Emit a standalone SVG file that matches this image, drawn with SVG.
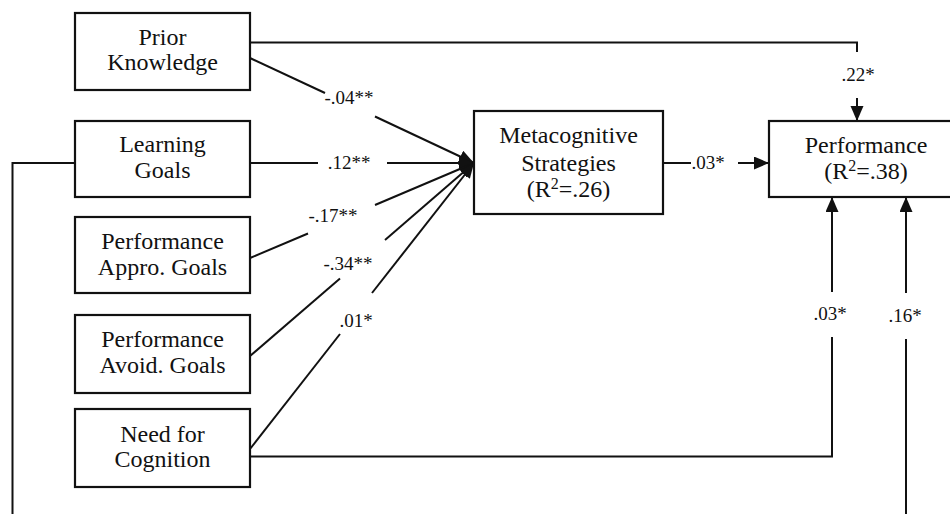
<svg xmlns="http://www.w3.org/2000/svg" width="950" height="514" viewBox="0 0 950 514">
<style>
.box{fill:#fff;stroke:#111;stroke-width:2.2}
.t{font-family:'Liberation Serif','Times New Roman','DejaVu Serif',serif;font-size:24px;fill:#111;text-anchor:middle}
.e{font-family:'Liberation Serif','Times New Roman','DejaVu Serif',serif;font-size:19px;fill:#111;text-anchor:middle}
.c{fill:none;stroke:#111;stroke-width:2}
</style>
<defs>
<marker id="ah" markerUnits="userSpaceOnUse" markerWidth="16" markerHeight="14" refX="15" refY="6.5" orient="auto">
<path d="M0,0 L15,6.5 L0,13 z" fill="#111"/>
</marker>
</defs>
<rect width="950" height="514" fill="#fff"/>
<g id="connectors">
<polyline class="c" points="250,42.5 857,42.5 857,52"/>
<line class="c" x1="857" y1="98" x2="857" y2="121" marker-end="url(#ah)"/>
<text class="e" x="858" y="81">.22*</text>
<line class="c" x1="250" y1="58" x2="325" y2="93"/>
<line class="c" x1="375" y1="116.5" x2="474" y2="163" marker-end="url(#ah)"/>
<text class="e" x="349" y="104">-.04**</text>
<line class="c" x1="250" y1="163" x2="318" y2="163"/>
<line class="c" x1="387" y1="163" x2="474" y2="163" marker-end="url(#ah)"/>
<text class="e" x="349" y="169">.12**</text>
<line class="c" x1="250" y1="258" x2="308" y2="233.5"/>
<line class="c" x1="375" y1="205" x2="474" y2="163" marker-end="url(#ah)"/>
<text class="e" x="333" y="222">-.17**</text>
<line class="c" x1="250" y1="356" x2="340" y2="278.5"/>
<line class="c" x1="385" y1="240" x2="474" y2="163" marker-end="url(#ah)"/>
<text class="e" x="348" y="270">-.34**</text>
<line class="c" x1="250" y1="449" x2="340" y2="334"/>
<line class="c" x1="372" y1="293" x2="474" y2="163" marker-end="url(#ah)"/>
<text class="e" x="356" y="327">.01*</text>
<line class="c" x1="663" y1="163" x2="691" y2="163"/>
<line class="c" x1="738" y1="163" x2="769" y2="163" marker-end="url(#ah)"/>
<text class="e" x="708" y="169">.03*</text>
<polyline class="c" points="250,456.5 832,456.5 832,337"/>
<line class="c" x1="832" y1="292" x2="832" y2="197" marker-end="url(#ah)"/>
<text class="e" x="830" y="320">.03*</text>
<polyline class="c" points="75,163 12.5,163 12.5,514"/>
<line class="c" x1="906" y1="514" x2="906" y2="339"/>
<line class="c" x1="906" y1="293" x2="906" y2="197" marker-end="url(#ah)"/>
<text class="e" x="905" y="322">.16*</text>
</g>
<g id="prior">
<rect class="box" x="75" y="13" width="175" height="77"/>
<text class="t" x="162.5" y="45">Prior</text>
<text class="t" x="162.5" y="70">Knowledge</text>
</g>
<g id="learning">
<rect class="box" x="75" y="121" width="175" height="76"/>
<text class="t" x="162.5" y="152">Learning</text>
<text class="t" x="162.5" y="178">Goals</text>
</g>
<g id="appro">
<rect class="box" x="75" y="217" width="175" height="76"/>
<text class="t" x="162.5" y="249">Performance</text>
<text class="t" x="162.5" y="275">Appro. Goals</text>
</g>
<g id="avoid">
<rect class="box" x="75" y="315" width="175" height="78"/>
<text class="t" x="162.5" y="347">Performance</text>
<text class="t" x="162.5" y="373">Avoid. Goals</text>
</g>
<g id="nfc">
<rect class="box" x="75" y="409" width="175" height="78"/>
<text class="t" x="162.5" y="442">Need for</text>
<text class="t" x="162.5" y="467">Cognition</text>
</g>
<g id="meta">
<rect class="box" x="474" y="111" width="189" height="103"/>
<text class="t" x="568.5" y="143">Metacognitive</text>
<text class="t" x="568.5" y="171">Strategies</text>
<text class="t" x="568.5" y="197">(R<tspan font-size="16" dy="-8">2</tspan><tspan dy="8">=.26)</tspan></text>
</g>
<g id="performance">
<rect class="box" x="769" y="121" width="200" height="76"/>
<text class="t" x="866" y="153">Performance</text>
<text class="t" x="866" y="179">(R<tspan font-size="16" dy="-8">2</tspan><tspan dy="8">=.38)</tspan></text>
</g>
</svg>
